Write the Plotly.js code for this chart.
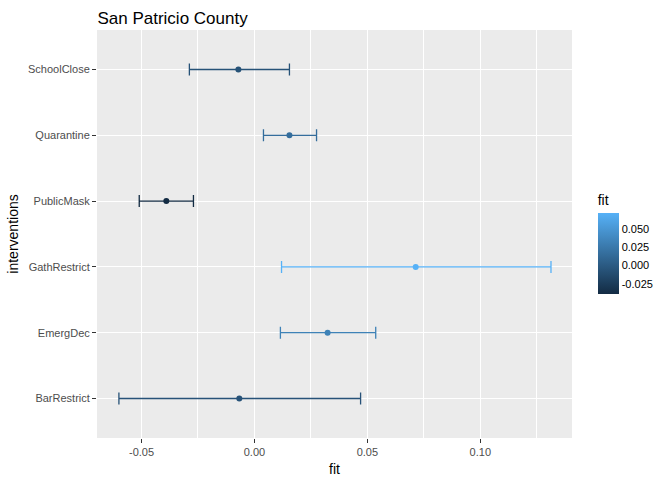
<!DOCTYPE html>
<html><head><script src="https://cdn.plot.ly/plotly-3.0.1.min.js"></script></head>
<body style="margin:0"><div id="c" style="width:672px;height:480px"></div>
<script>
const categories=["BarRestrict","EmergDec","GathRestrict","PublicMask","Quarantine","SchoolClose"];
const fit=[-0.0067,0.0324,0.0714,-0.039,0.0155,-0.0071];
const lower=[-0.060,0.0115,0.012,-0.051,0.004,-0.0288];
const upper=[0.047,0.0537,0.1313,-0.027,0.0275,0.0155];
const lo=Math.min(...fit),hi=Math.max(...fit);
function col(v){const t=(v-lo)/(hi-lo);const a=[0x13,0x2B,0x43],b=[0x56,0xB1,0xF7];
return 'rgb('+a.map((x,i)=>Math.round(x+(b[i]-x)*t)).join(',')+')';}
const traces=categories.map((c,i)=>({type:'scatter',mode:'markers',x:[fit[i]],y:[c],
 marker:{color:col(fit[i]),size:6},showlegend:false,hoverinfo:'x+y',
 error_x:{type:'data',symmetric:false,array:[upper[i]-fit[i]],arrayminus:[fit[i]-lower[i]],color:col(fit[i]),thickness:1.3,width:6}}));
traces.push({type:'scatter',mode:'markers',x:[fit[0]],y:[categories[0]],showlegend:false,hoverinfo:'skip',
 marker:{size:0.1,opacity:0,color:fit,cmin:lo,cmax:hi,colorscale:[[0,'#132B43'],[1,'#56B1F7']],showscale:true,
 colorbar:{title:{text:'fit',font:{size:14,color:'#000'}},x:1.033,xanchor:'left',y:0.478,len:0.3,thickness:21,outlinewidth:0,
 tickvals:[-0.025,0,0.025,0.05],ticktext:['-0.025','0.000','0.025','0.050'],tickfont:{size:11,color:'#000'},ticks:''}}});
Plotly.newPlot('c',traces,{width:672,height:480,margin:{l:97,r:92,t:30,b:42},
 paper_bgcolor:'#fff',plot_bgcolor:'#ebebeb',font:{family:'Liberation Sans, Arial',color:'#000'},
 title:{text:'San Patricio County',x:0.145,xanchor:'left',y:0.975,font:{size:17}},
 xaxis:{range:[-0.0697,0.1406],tickvals:[-0.05,0,0.05,0.1],ticktext:['-0.05','0.00','0.05','0.10'],
  gridcolor:'#fff',gridwidth:1.2,zeroline:false,ticks:'outside',ticklen:4,tickcolor:'#333',tickfont:{size:11,color:'#4d4d4d'},
  minor:{tickvals:[-0.075,-0.025,0.025,0.075,0.125],showgrid:true,gridcolor:'#fff',gridwidth:0.5},
  title:{text:'fit',font:{size:14},standoff:6}},
 yaxis:{type:'category',categoryarray:categories,range:[-0.6,5.6],gridcolor:'#fff',gridwidth:1.2,ticks:'outside',ticklen:4,tickcolor:'#333',
  tickfont:{size:11,color:'#4d4d4d'},title:{text:'interventions',font:{size:14},standoff:6}}
},{displayModeBar:false});
</script></body></html>
